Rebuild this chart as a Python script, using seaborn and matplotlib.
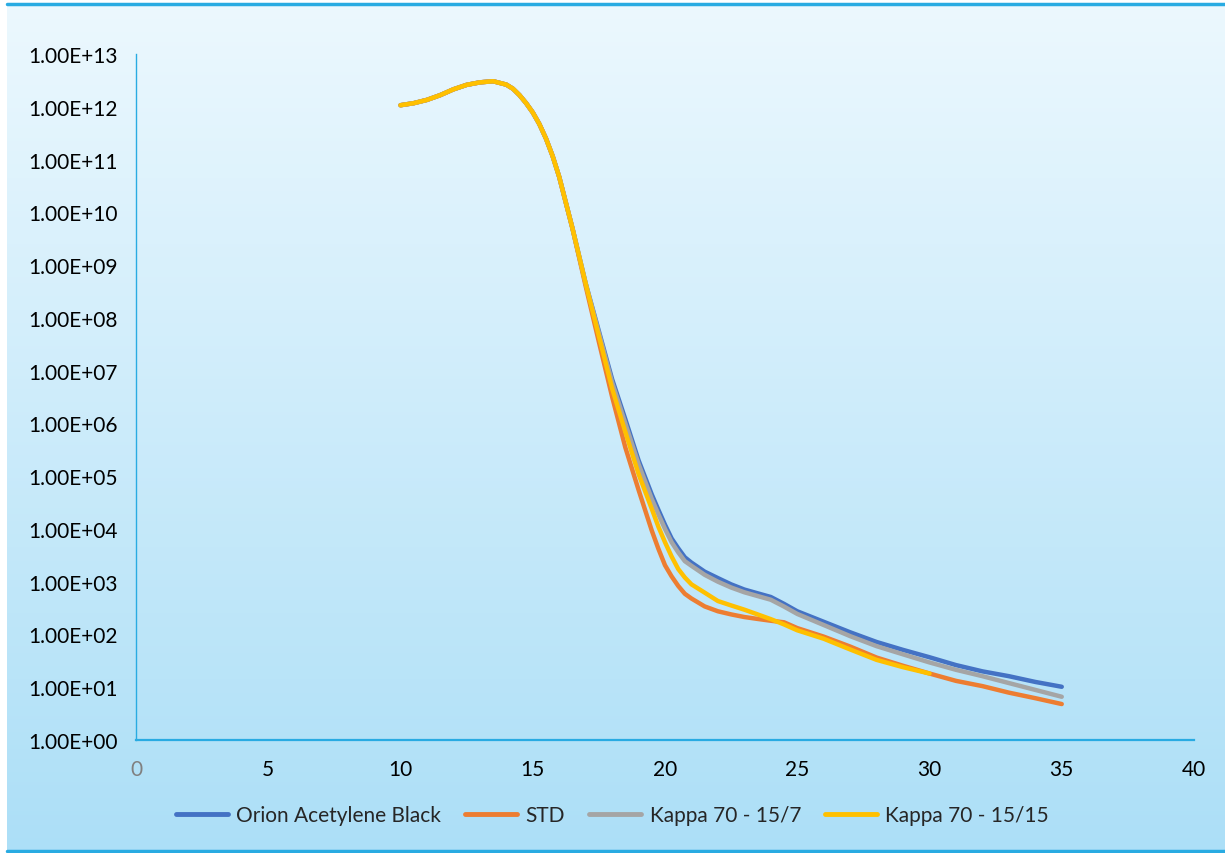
import numpy as np
import pandas as pd
import matplotlib
matplotlib.use("Agg")
import matplotlib.pyplot as plt
from matplotlib.ticker import FuncFormatter
import seaborn as sns

# values (log scale y)
x_main = [10, 10.5, 11, 11.5, 12, 12.5, 13, 13.5, 14, 14.25, 14.5, 14.75, 15, 15.25, 15.5, 15.75,
          16, 16.5, 17, 17.5, 18, 18.5, 19, 19.5, 19.75, 20, 20.25, 20.5, 20.75, 21, 21.5,
          22, 22.5, 23, 23.5, 24, 24.5, 25, 26, 27, 28, 29, 30, 31, 32, 33, 34, 35]

peak = [1.07e12, 1.17e12, 1.35e12, 1.66e12, 2.14e12, 2.6e12, 2.9e12, 3.05e12, 2.63e12, 2.2e12,
        1.66e12, 1.17e12, 7.8e11, 4.7e11, 2.5e11, 1.17e11, 4.7e10, 5.0e9]

orion = peak + [4.5e8, 5.6e7, 6.9e6, 1.2e6, 2.0e5, 4.5e4, 2.3e4, 1.2e4, 6.6e3, 4.3e3, 2.9e3,
                2.3e3, 1.55e3, 1.17e3, 890, 710, 603, 513, 380, 275, 174, 110, 72, 51, 37,
                26.3, 20, 16.2, 12.6, 10.2]
std = peak + [4.0e8, 3.5e7, 3.2e6, 3.5e5, 5.5e4, 9.3e3, 4.2e3, 2.05e3, 1.26e3, 830, 590, 480,
              340, 275, 240, 214, 197, 182, 170, 132, 91, 59, 36.5, 25.5, 18.2, 13.2, 10.5,
              7.9, 6.2, 4.8]
kappa_7 = peak + [4.5e8, 5.2e7, 6.0e6, 1.0e6, 1.7e5, 3.7e4, 1.9e4, 1.0e4, 5.6e3, 3.6e3, 2.45e3,
                  2.0e3, 1.35e3, 1.0e3, 776, 630, 535, 455, 338, 245, 151, 93, 60, 42, 29.5,
                  21.4, 16.2, 12, 8.9, 6.6]

x_k15 = x_main[:43]
kappa_15 = peak + [4.5e8, 4.5e7, 4.6e6, 6.9e5, 1.1e5, 2.4e4, 1.1e4, 5.6e3, 3.0e3, 1.74e3,
                   1.2e3, 890, 620, 430, 355, 295, 240, 195, 155, 120, 83, 52, 33, 24, 18.2]

names = ["Orion Acetylene Black", "STD", "Kappa 70 - 15/7", "Kappa 70 - 15/15"]
colors = ["#4472C4", "#ED7D31", "#A5A5A5", "#FFC000"]

df = pd.concat([
    pd.DataFrame({"x": x_main, "y": orion, "series": names[0]}),
    pd.DataFrame({"x": x_main, "y": std, "series": names[1]}),
    pd.DataFrame({"x": x_main, "y": kappa_7, "series": names[2]}),
    pd.DataFrame({"x": x_k15, "y": kappa_15, "series": names[3]}),
])

sns.set_style("white")
plt.rcParams["font.family"] = ["Lato", "DejaVu Sans"]

fig = plt.figure(figsize=(12.25, 8.54), dpi=100)

# gradient background panel with blue rules top and bottom
bg = fig.add_axes([7 / 1225, 2 / 854, 1 - 7 / 1225, 1 - 9 / 854], zorder=-10)
grad = np.linspace(0, 1, 256).reshape(-1, 1)
top_c = np.array([236, 248, 254]) / 255
bot_c = np.array([172, 223, 247]) / 255
img = top_c + (bot_c - top_c) * grad[..., None]
bg.imshow(img, aspect="auto", extent=[0, 1, 0, 1], origin="upper")
bg.set_axis_off()
fig.add_artist(plt.Line2D([7 / 1225, 1], [1 - 5 / 854, 1 - 5 / 854], color="#29ABE2", lw=2.5))
fig.add_artist(plt.Line2D([7 / 1225, 1], [2 / 854, 2 / 854], color="#29ABE2", lw=2.5))

ax = fig.add_axes([136 / 1225, 1 - 741 / 854, (1194 - 136) / 1225, (741 - 55) / 854])
ax.patch.set_alpha(0)

sns.lineplot(data=df, x="x", y="y", hue="series", hue_order=names, palette=dict(zip(names, colors)),
             estimator=None, sort=False, lw=3.2, ax=ax, legend=True)
for ln in ax.lines:
    ln.set_solid_capstyle("round")
    ln.set_solid_joinstyle("round")

ax.set_yscale("log")
ax.set_ylim(1, 1e13)
ax.set_xlim(0, 40)
ax.set_yticks([10.0 ** k for k in range(14)])
ax.minorticks_off()
ax.yaxis.set_major_formatter(FuncFormatter(lambda v, p: f"{v:.2E}"))
ax.set_xticks(range(0, 41, 5))
ax.tick_params(axis="both", length=0, labelsize=15, colors="black")
ax.tick_params(axis="y", pad=13)
ax.tick_params(axis="x", pad=14)
ax.get_xticklabels()[0].set_color("#808080")
ax.set_xlabel("")
ax.set_ylabel("")

for side in ["top", "right"]:
    ax.spines[side].set_visible(False)
ax.spines["left"].set_color("#29ABE2")
ax.spines["left"].set_linewidth(1.0)
ax.spines["bottom"].set_color("#29ABE2")
ax.spines["bottom"].set_linewidth(1.6)

handles, labels = ax.get_legend_handles_labels()
ax.get_legend().remove()
leg = fig.legend(handles, labels, loc="center", bbox_to_anchor=(0.5, 1 - 816 / 854), ncol=4,
                 frameon=False, fontsize=15, handlelength=2.5, handletextpad=0.4,
                 columnspacing=1.15)
for h in leg.legend_handles:
    h.set_linewidth(3.5)

fig.savefig("out.png", dpi=100)
